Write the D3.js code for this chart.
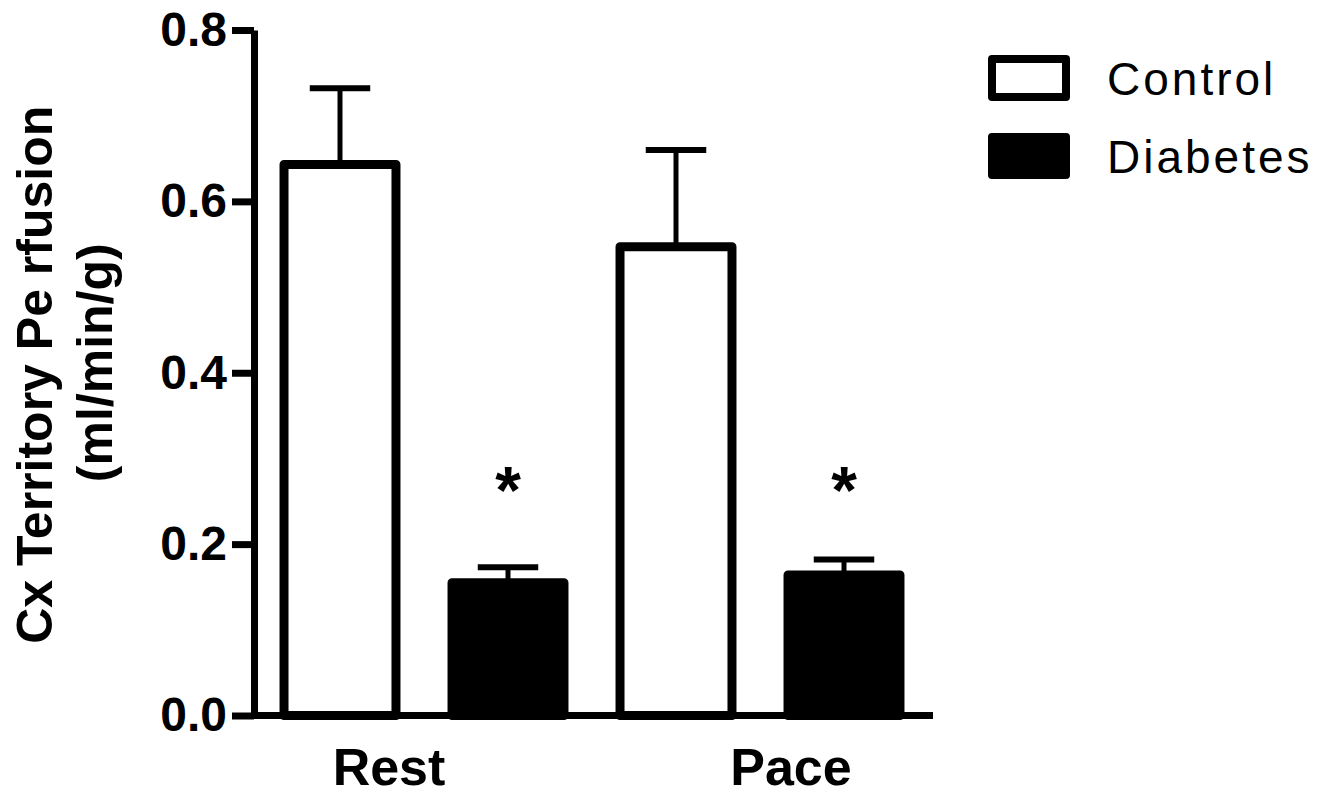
<!DOCTYPE html>
<html>
<head>
<meta charset="utf-8">
<script src="https://cdn.jsdelivr.net/npm/d3@7/dist/d3.min.js"></script>
<style>
  html, body { margin: 0; padding: 0; background: #fff; }
  svg { display: block; font-family: "Liberation Sans", Arial, Helvetica, sans-serif; }
</style>
</head>
<body>
<div id="chart"></div>
<script>
// values
var groups = ["Rest", "Pace"];
var series = ["Control", "Diabetes"];
var meanControl = [0.643, 0.547];
var meanDiabetes = [0.155, 0.164];
var errControl = [0.089, 0.113];
var errDiabetes = [0.018, 0.018];
var starred = ["Diabetes"];
var yTicks = [0.0, 0.2, 0.4, 0.6, 0.8];
var titleLines = ["Cx Territory Pe rfusion", "(ml/min/g)"];

var width = 1344, height = 797;
var axisX = 254, axisRight = 933;

var svg = d3.select("#chart").append("svg")
  .attr("width", width)
  .attr("height", height);

var y = d3.scaleLinear().domain([0, 0.8]).range([715.5, 30]);
var x0 = d3.scaleBand().domain(groups).range([256, 928]);
var x1 = d3.scaleBand().domain(series).range([0, x0.bandwidth()])
  .paddingInner(0.28).paddingOuter(0.14);

// flatten to one record per bar
var bars = [];
groups.forEach(function(g, i) {
  bars.push({ group: g, series: "Control", value: meanControl[i], err: errControl[i] });
  bars.push({ group: g, series: "Diabetes", value: meanDiabetes[i], err: errDiabetes[i] });
});

var bw = x1.bandwidth();
var barStroke = 9;

// error bars (behind the bars)
var eb = svg.append("g").attr("class", "errors");
eb.selectAll("line.stem")
  .data(bars).enter().append("line")
  .attr("x1", function(d) { return x0(d.group) + x1(d.series) + bw / 2; })
  .attr("x2", function(d) { return x0(d.group) + x1(d.series) + bw / 2; })
  .attr("y1", function(d) { return y(d.value); })
  .attr("y2", function(d) { return y(d.value + d.err); })
  .attr("stroke", "#000").attr("stroke-width", 5);
eb.selectAll("line.cap")
  .data(bars).enter().append("line")
  .attr("x1", function(d) { return x0(d.group) + x1(d.series) + bw / 4; })
  .attr("x2", function(d) { return x0(d.group) + x1(d.series) + bw * 3 / 4; })
  .attr("y1", function(d) { return y(d.value + d.err); })
  .attr("y2", function(d) { return y(d.value + d.err); })
  .attr("stroke", "#000").attr("stroke-width", 6);

// bars
svg.append("g").attr("class", "bars")
  .selectAll("rect")
  .data(bars).enter().append("rect")
  .attr("x", function(d) { return x0(d.group) + x1(d.series) + barStroke / 2; })
  .attr("y", function(d) { return y(d.value); })
  .attr("width", bw - barStroke)
  .attr("height", function(d) { return y(0) - y(d.value); })
  .attr("fill", function(d) { return d.series == "Control" ? "#fff" : "#000"; })
  .attr("stroke", "#000")
  .attr("stroke-width", barStroke)
  .attr("stroke-linejoin", "round");

// significance stars, all at one level
svg.append("g").attr("class", "stars")
  .selectAll("text")
  .data(bars.filter(function(d) { return starred.indexOf(d.series) >= 0; }))
  .enter().append("text")
  .attr("x", function(d) { return x0(d.group) + x1(d.series) + bw / 2; })
  .attr("y", y(0.284))
  .attr("dy", "0.62em")
  .attr("text-anchor", "middle")
  .attr("font-size", 66)
  .attr("font-weight", "bold")
  .text("*");

// y axis
var yAxis = d3.axisLeft(y)
  .tickValues(yTicks)
  .tickFormat(d3.format(".1f"))
  .tickSize(22)
  .tickSizeOuter(0)
  .tickPadding(5);
var gy = svg.append("g")
  .attr("transform", "translate(" + axisX + ",0)")
  .call(yAxis);
gy.select(".domain").attr("stroke", "#000").attr("stroke-width", 7);
gy.selectAll(".tick line").attr("stroke", "#000").attr("stroke-width", 7);
gy.selectAll(".tick text")
  .attr("fill", "#000")
  .attr("font-size", 48)
  .attr("font-weight", "bold")
  .attr("font-family", "'Liberation Sans', Arial, sans-serif");

// x baseline
svg.append("line")
  .attr("x1", axisX).attr("x2", axisRight)
  .attr("y1", y(0)).attr("y2", y(0))
  .attr("stroke", "#000").attr("stroke-width", 7);

// group labels (slightly off-centre in the original)
var labelShift = { Rest: -35, Pace: 31 };
svg.append("g").attr("class", "xlabels")
  .selectAll("text")
  .data(groups).enter().append("text")
  .attr("x", function(d) { return x0(d) + x0.bandwidth() / 2 + labelShift[d]; })
  .attr("y", 785)
  .attr("text-anchor", "middle")
  .attr("font-size", 52)
  .attr("font-weight", "bold")
  .text(function(d) { return d; });

// y title, two lines rotated
var midY = (y(0) + y(0.8)) / 2;
svg.append("g").attr("class", "ytitle")
  .selectAll("text")
  .data(titleLines).enter().append("text")
  .attr("transform", function(d, i) {
    return "translate(" + (52 + i * 60) + "," + (midY + (i == 0 ? 2 : -10)) + ") rotate(-90)";
  })
  .attr("text-anchor", "middle")
  .attr("font-size", 50)
  .attr("font-weight", "bold")
  .text(function(d) { return d; });

// legend
var legend = svg.append("g").attr("class", "legend")
  .attr("transform", "translate(988,55)");
var item = legend.selectAll("g")
  .data(series).enter().append("g")
  .attr("transform", function(d, i) { return "translate(0," + i * 78 + ")"; });
item.append("rect")
  .attr("x", 4).attr("y", 4)
  .attr("width", 74).attr("height", 38)
  .attr("fill", function(d) { return d == "Control" ? "#fff" : "#000"; })
  .attr("stroke", "#000")
  .attr("stroke-width", 8)
  .attr("stroke-linejoin", "round");
item.append("text")
  .attr("x", 119)
  .attr("y", 40)
  .attr("font-size", 46)
  .attr("letter-spacing", 3)
  .text(function(d) { return d; });
</script>
</body>
</html>
